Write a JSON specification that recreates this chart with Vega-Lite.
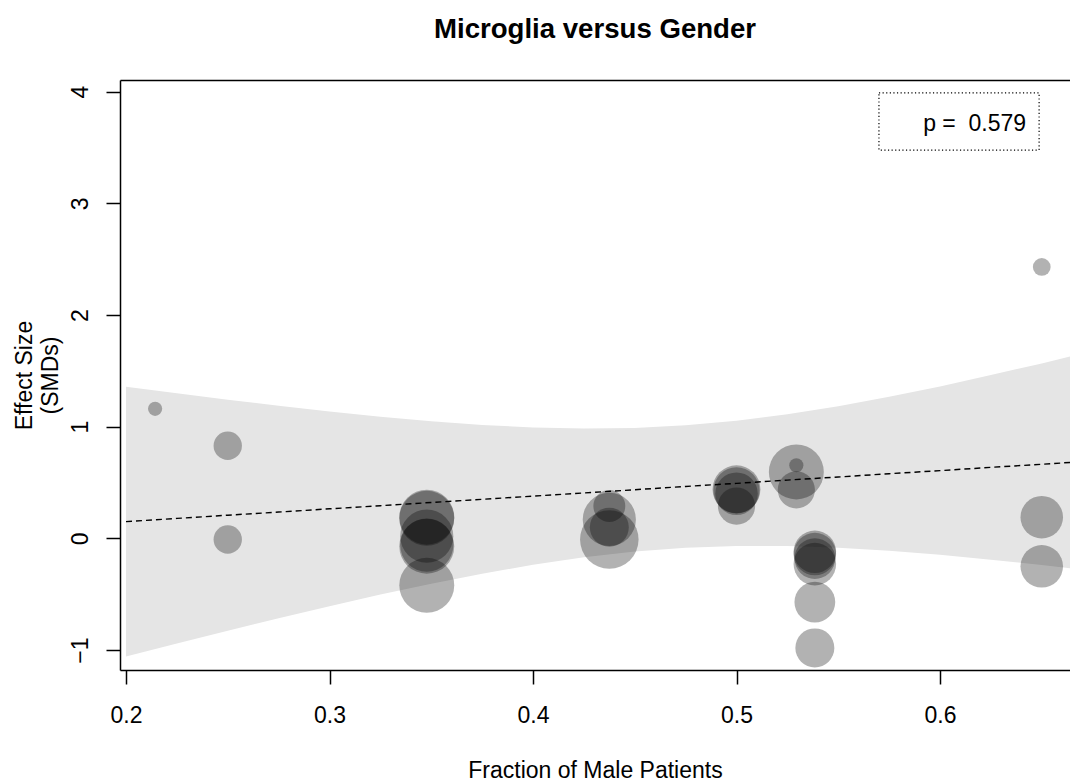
{
  "$schema": "https://vega.github.io/schema/vega-lite/v6.json",
  "autosize": {"type": "none"},
  "padding": {"left": 120, "top": 80, "right": 0, "bottom": 114},
  "width": 950,
  "height": 590,
  "background": "white",
  "config": {
    "font": "Liberation Sans",
    "view": {"stroke": null},
    "axis": {
      "grid": false,
      "domainColor": "black",
      "domainWidth": 1.5,
      "tickColor": "black",
      "tickWidth": 1.5,
      "tickSize": 14,
      "labelColor": "black",
      "labelFontSize": 23,
      "labelFont": "Liberation Sans",
      "titleColor": "black",
      "titleFontSize": 23,
      "titleFontWeight": "normal",
      "titleFont": "Liberation Sans"
    }
  },
  "title": {
    "text": "Microglia versus Gender",
    "fontSize": 27.6,
    "fontWeight": "bold",
    "font": "Liberation Sans",
    "color": "black",
    "anchor": "middle",
    "baseline": "alphabetic",
    "offset": 14
  },
  "datasets": {
    "studies": [
      {"frac": 0.2143, "smd": 1.16, "weight": 8},
      {"frac": 0.25, "smd": 0.83, "weight": 16},
      {"frac": 0.25, "smd": -0.01, "weight": 16},
      {"frac": 0.3478, "smd": 0.19, "weight": 31},
      {"frac": 0.3478, "smd": 0.18, "weight": 31},
      {"frac": 0.3478, "smd": 0.02, "weight": 30},
      {"frac": 0.3478, "smd": -0.06, "weight": 30},
      {"frac": 0.3478, "smd": -0.07, "weight": 31},
      {"frac": 0.3478, "smd": -0.42, "weight": 31},
      {"frac": 0.4375, "smd": 0.29, "weight": 18},
      {"frac": 0.4375, "smd": 0.17, "weight": 30},
      {"frac": 0.4375, "smd": 0.10, "weight": 22},
      {"frac": 0.4375, "smd": -0.01, "weight": 33},
      {"frac": 0.5, "smd": 0.44, "weight": 27},
      {"frac": 0.5, "smd": 0.43, "weight": 26},
      {"frac": 0.5, "smd": 0.40, "weight": 24},
      {"frac": 0.5, "smd": 0.29, "weight": 21},
      {"frac": 0.5294, "smd": 0.595, "weight": 31},
      {"frac": 0.5294, "smd": 0.655, "weight": 8},
      {"frac": 0.5294, "smd": 0.435, "weight": 21},
      {"frac": 0.5385, "smd": -0.12, "weight": 24},
      {"frac": 0.5385, "smd": -0.14, "weight": 24},
      {"frac": 0.5385, "smd": -0.18, "weight": 23},
      {"frac": 0.5385, "smd": -0.23, "weight": 24},
      {"frac": 0.5385, "smd": -0.57, "weight": 23},
      {"frac": 0.5385, "smd": -0.98, "weight": 22},
      {"frac": 0.65, "smd": 2.43, "weight": 10},
      {"frac": 0.65, "smd": 0.19, "weight": 24},
      {"frac": 0.65, "smd": -0.25, "weight": 24}
    ],
    "fit": [
      {"frac": 0.200, "lo": -1.058, "hi": 1.358, "pred": 0.150},
      {"frac": 0.225, "lo": -0.941, "hi": 1.299, "pred": 0.179},
      {"frac": 0.250, "lo": -0.827, "hi": 1.242, "pred": 0.208},
      {"frac": 0.275, "lo": -0.715, "hi": 1.187, "pred": 0.236},
      {"frac": 0.300, "lo": -0.607, "hi": 1.136, "pred": 0.265},
      {"frac": 0.325, "lo": -0.503, "hi": 1.089, "pred": 0.293},
      {"frac": 0.350, "lo": -0.406, "hi": 1.049, "pred": 0.322},
      {"frac": 0.375, "lo": -0.316, "hi": 1.016, "pred": 0.350},
      {"frac": 0.400, "lo": -0.236, "hi": 0.994, "pred": 0.379},
      {"frac": 0.425, "lo": -0.169, "hi": 0.984, "pred": 0.407},
      {"frac": 0.450, "lo": -0.117, "hi": 0.989, "pred": 0.436},
      {"frac": 0.475, "lo": -0.084, "hi": 1.013, "pred": 0.465},
      {"frac": 0.500, "lo": -0.068, "hi": 1.054, "pred": 0.493},
      {"frac": 0.525, "lo": -0.068, "hi": 1.111, "pred": 0.522},
      {"frac": 0.550, "lo": -0.084, "hi": 1.184, "pred": 0.550},
      {"frac": 0.575, "lo": -0.111, "hi": 1.268, "pred": 0.579},
      {"frac": 0.600, "lo": -0.147, "hi": 1.361, "pred": 0.607},
      {"frac": 0.625, "lo": -0.190, "hi": 1.462, "pred": 0.636},
      {"frac": 0.650, "lo": -0.239, "hi": 1.567, "pred": 0.664},
      {"frac": 0.675, "lo": -0.291, "hi": 1.677, "pred": 0.693}
    ],
    "pvalue": [
      {"x1": 0.5700, "x2": 0.6487, "y1": 3.988, "y2": 3.477, "tx": 0.6423, "ty": 3.65, "label": "p =\u00a0 0.579"}
    ]
  },
  "layer": [
    {
      "data": {"name": "fit"},
      "mark": {"type": "area", "color": "#e5e5e5", "clip": true},
      "encoding": {
        "x": {
          "field": "frac", "type": "quantitative",
          "scale": {"domain": [0.19705, 0.66388], "nice": false, "zero": false},
          "axis": {
            "orient": "bottom",
            "values": [0.2, 0.3, 0.4, 0.5, 0.6],
            "format": ".1f",
            "labelPadding": 20,
            "title": "Fraction of Male Patients",
            "titleBaseline": "alphabetic",
            "titleY": 107
          }
        },
        "y": {
          "field": "lo", "type": "quantitative",
          "scale": {"domain": [-1.178, 4.104], "nice": false, "zero": false},
          "axis": {
            "orient": "left",
            "values": [-1, 0, 1, 2, 3, 4],
            "format": "d",
            "labelAngle": 270,
            "labelAlign": "center",
            "labelBaseline": "alphabetic",
            "labelPadding": 19,
            "title": ["Effect Size", "(SMDs)"],
            "titleAngle": 270,
            "titleAlign": "center",
            "titleBaseline": "alphabetic",
            "titleLineHeight": 26,
            "titleX": -89,
            "titleY": 295
          }
        },
        "y2": {"field": "hi"}
      }
    },
    {
      "data": {"name": "fit"},
      "mark": {"type": "line", "color": "black", "strokeWidth": 1.4, "strokeDash": [6, 4], "clip": true},
      "encoding": {
        "x": {
          "field": "frac", "type": "quantitative",
          "axis": {"orient": "top", "ticks": false, "labels": false, "title": null, "domain": true}
        },
        "y": {"field": "pred", "type": "quantitative", "axis": null}
      }
    },
    {
      "data": {"name": "studies"},
      "mark": {"type": "circle", "color": "black", "fillOpacity": 0.3, "opacity": 1, "stroke": null},
      "encoding": {
        "x": {"field": "frac", "type": "quantitative", "axis": null},
        "y": {"field": "smd", "type": "quantitative", "axis": null},
        "size": {
          "field": "weight", "type": "quantitative",
          "scale": {"type": "pow", "exponent": 2, "domain": [0, 10], "range": [0, 314.16]},
          "legend": null
        }
      }
    },
    {
      "data": {"name": "pvalue"},
      "mark": {"type": "rect", "fill": null, "stroke": "black", "strokeWidth": 1.2, "strokeDash": [1.2, 2.4]},
      "encoding": {
        "x": {"field": "x1", "type": "quantitative", "axis": null},
        "x2": {"field": "x2"},
        "y": {"field": "y1", "type": "quantitative", "axis": null},
        "y2": {"field": "y2"}
      }
    },
    {
      "data": {"name": "pvalue"},
      "mark": {"type": "text", "align": "right", "baseline": "alphabetic", "fontSize": 23, "font": "Liberation Sans", "color": "black"},
      "encoding": {
        "x": {"field": "tx", "type": "quantitative", "axis": null},
        "y": {"field": "ty", "type": "quantitative", "axis": null},
        "text": {"field": "label"}
      }
    }
  ],
  "resolve": {"axis": {"x": "independent", "y": "independent"}}
}
